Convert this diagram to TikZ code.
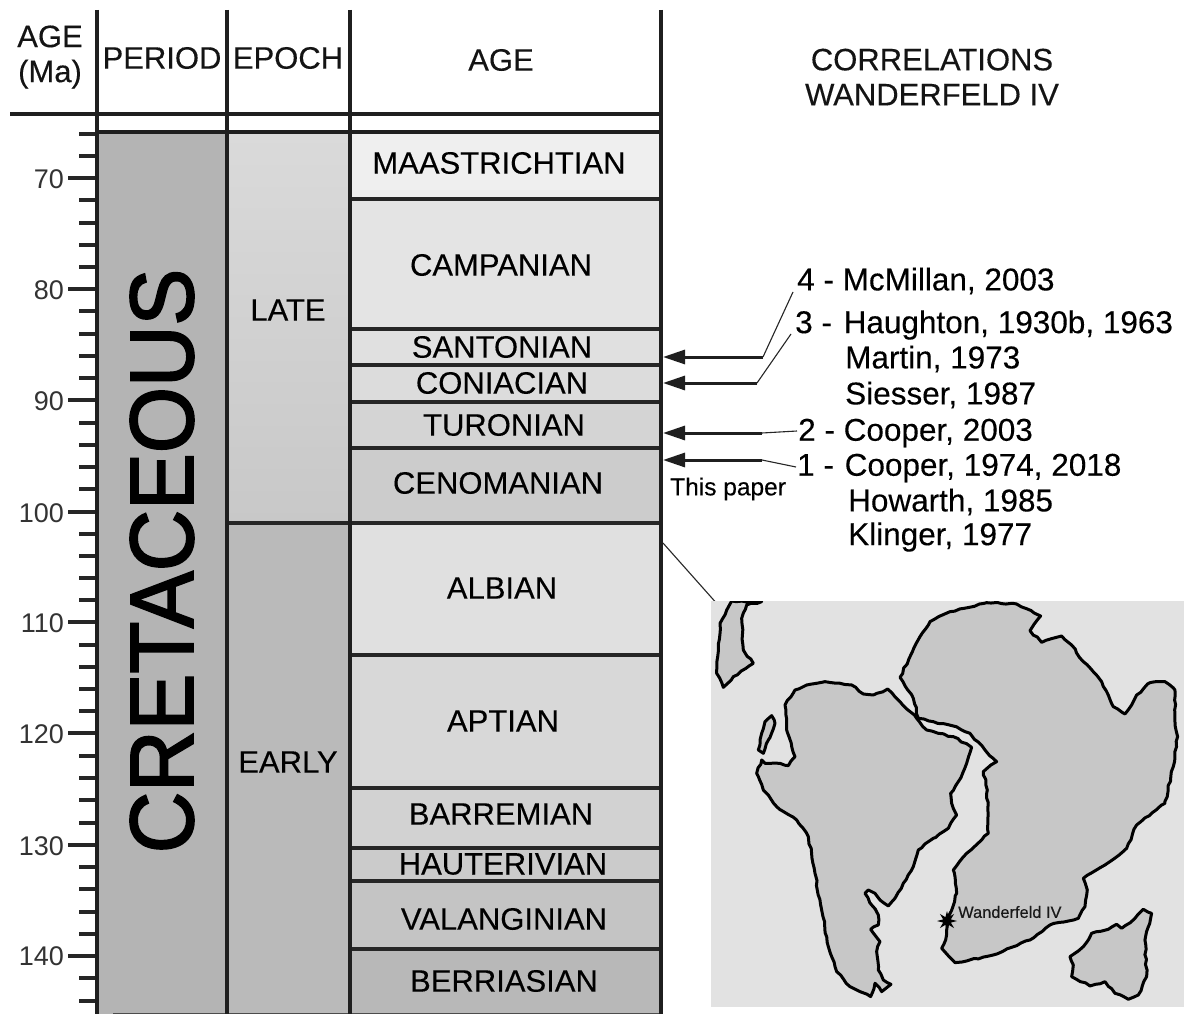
\documentclass[tikz,border=0pt]{standalone}
\usepackage{fontspec}
\setmainfont[FakeBold=0.25]{Liberation Sans}
\newfontfamily\cretfont[FakeBold=2.2]{Liberation Sans}
\newfontfamily\plainfont{Liberation Sans}
\usetikzlibrary{arrows.meta,shapes.geometric,decorations.pathmorphing}
\tikzset{
 x=1pt,y=-1pt,
 gridline/.style={line width=4pt,draw=black!88},
 tickline/.style={line width=4.2pt,draw=black!85},
 bandline/.style={line width=3.4pt,draw=black!85},
 hdr/.style={font=\fontsize{31}{35}\selectfont,inner sep=0pt,text=black!92,align=center},
 agelab/.style={font=\fontsize{31}{35}\selectfont,inner sep=0pt,text=black},
 num/.style={font=\plainfont\fontsize{27}{30}\selectfont,inner sep=0pt,text=black!80,anchor=east},
 refl/.style={font=\fontsize{31.5}{35}\selectfont,inner sep=0pt,anchor=west,text=black},
 shaft/.style={line width=3pt,draw=black!88,-{Triangle[length=22pt,width=14pt]}},
 hair/.style={line width=1.1pt,draw=black!85},
 land/.style={fill=landgrey,draw=black,line width=3pt,line join=round,
   decorate,decoration={random steps,segment length=5pt,amplitude=0.8pt}},
}
\definecolor{landgrey}{gray}{0.78}
\definecolor{mapbg}{gray}{0.885}
\begin{document}
\begin{tikzpicture}
\useasboundingbox (0,0) rectangle (1184,1014);
\fill[white] (0,0) rectangle (1184,1014);
% columns
\fill[fill={rgb,255:red,180;green,180;blue,180}] (97,132) rectangle (227,1014);
\shade[top color={rgb,255:red,218;green,218;blue,218},bottom color={rgb,255:red,200;green,200;blue,200}] (227,132) rectangle (350,523);
\fill[fill={rgb,255:red,186;green,186;blue,186}] (227,523) rectangle (350,1014);
% age bands
\foreach \ya/\yb/\g in {132/199/239,199/329/228,329/365/224,365/402/220,402/448/212,448/523/204,523/655/224,655/788/216,788/848/210,848/881/203,881/949/196,949/1014/184}{
  \fill[fill={rgb,255:red,\g;green,\g;blue,\g}] (350,\ya) rectangle (661,\yb);
}
% band lines
\foreach \yy in {199,329,365,402,448,523,655,788,848,881,949}{
  \draw[bandline] (350,\yy) -- (661,\yy);
}
\draw[bandline] (227,523) -- (350,523);
\draw[gridline] (97,132) -- (661,132);
\draw[gridline] (10,114) -- (661,114);
\draw[line width=1.4pt,draw=black!70] (113,1014) -- (661,1014);
% ticks
\foreach \yy in {134,156,200,223,245,267,311,334,356,378,423,445,467,489,534,556,578,600,645,667,689,711,756,778,800,823,867,889,912,934,978,1001}{
  \draw[tickline] (79,\yy) -- (97,\yy);
}
\foreach \yy in {178,289,400,512,622,733,845,956}{
  \draw[tickline] (68,\yy) -- (97,\yy);
}
\foreach \yy/\t in {179/70,290/80,401/90,513/100,623/110,734/120,846/130,956/140}{
  \node[num] (n\t) at (64,\yy) {\t};
}
% verticals
\foreach \xx in {97,227,350,661}{ \draw[gridline] (\xx,10) -- (\xx,1014); }
% headers
\node[hdr] (hage) at (50,57) {AGE\\(Ma)};
\node[hdr] (hperiod) at (162,58) {PERIOD};
\node[hdr] (hepoch) at (288,58) {EPOCH};
\node[hdr] (hagec) at (501,60) {AGE};
\node[hdr] (hcorr) at (932,77) {CORRELATIONS\\WANDERFELD IV};
% period / epoch
\node[inner sep=0pt,rotate=90,font=\cretfont\fontsize{90}{90}\selectfont,text=black] (cret) at (162,561) {\scalebox{0.945}[1]{CRETACEOUS}};
\node[agelab] (late) at (288,310) {LATE};
\node[agelab] (early) at (288,762) {EARLY};
% ages
\node[agelab] (maa) at (499,163) {MAASTRICHTIAN};
\node[agelab] (cam) at (501,265) {CAMPANIAN};
\node[agelab] (san) at (502,347) {SANTONIAN};
\node[agelab] (con) at (502,383) {CONIACIAN};
\node[agelab] (tur) at (504,425) {TURONIAN};
\node[agelab] (cen) at (498,483) {CENOMANIAN};
\node[agelab] (alb) at (502,588) {ALBIAN};
\node[agelab] (apt) at (503,721) {APTIAN};
\node[agelab] (bar) at (501,814) {BARREMIAN};
\node[agelab] (hau) at (503,864) {HAUTERIVIAN};
\node[agelab] (val) at (504,919) {VALANGINIAN};
\node[agelab] (ber) at (504,981) {BERRIASIAN};
% references
\node[refl] (r4) at (797,281) {4 - McMillan, 2003};
\node[refl] (r3) at (795,325) {3 -\hspace{3pt} Haughton, 1930b, 1963};
\node[refl] (r3b) at (845,359) {Martin, 1973};
\node[refl] (r3c) at (845,395) {Siesser, 1987};
\node[refl] (r2) at (798,433) {2 - Cooper, 2003};
\node[refl] (r1) at (797,468) {1 -\hspace{2pt} Cooper, 1974, 2018};
\node[refl] (r1b) at (848,502) {Howarth, 1985};
\node[refl] (r1c) at (848,537) {Klinger, 1977};
\node[inner sep=0pt,anchor=west,font=\fontsize{24.5}{27}\selectfont] (tp) at (670,489) {This paper};
% arrows
\coordinate (e4) at (763,357); \coordinate (f4) at (793,292); \coordinate (t4) at (663,357);
\coordinate (e3) at (757,383); \coordinate (f3) at (791,334); \coordinate (t3) at (663,383);
\coordinate (e2) at (762,433); \coordinate (f2) at (797,431); \coordinate (t2) at (663,433);
\coordinate (e1) at (762,460); \coordinate (f1) at (796,467); \coordinate (t1) at (663,460);
\foreach \k in {1,2,3,4}{
  \draw[shaft] (e\k) -- (t\k);
  \draw[hair] (e\k) -- (f\k);
}
\coordinate (l1) at (663,543); \coordinate (l2) at (719,606);
\draw[hair] (l1) -- (l2);
% map
\fill[mapbg] (711,601) rectangle (1184,1007);
\begin{scope}[shift={(700,590)},x=0.3333pt,y=-0.3333pt]
\clip (33,33) rectangle (1452,1250);
\draw[land] (95,33)--(60,100)--(55,170)--(50,250)--(70,292)--(100,260)--(160,220)--(130,180)--(125,85)--(140,45)--(185,35)--cycle;
\draw[land] (175,480)--(185,430)--(195,395)--(215,377)--(225,400)--(205,450)--(190,490)--cycle;
\draw[land] (255,345)--(285,300)--(320,285)--(375,275)--(455,285)--(490,312)--(520,315)--(563,297)--(600,335)--(650,385)--(680,420)--(715,430)--(760,440)--(815,472)--(800,520)--(775,575)--(752,610)--(755,640)--(770,675)--(745,715)--(700,745)--(655,780)--(640,830)--(610,880)--(585,925)--(565,948)--(540,930)--(525,910)--(505,900)--(495,910)--(515,945)--(535,975)--(535,1005)--(512,1018)--(540,1055)--(530,1085)--(535,1140)--(550,1170)--(573,1183)--(545,1205)--(525,1180)--(512,1220)--(480,1205)--(450,1190)--(410,1145)--(385,1070)--(365,960)--(345,850)--(325,740)--(290,690)--(230,650)--(190,600)--(170,550)--(185,510)--(195,520)--(240,520)--(265,527)--(285,500)--(260,420)--cycle;
\draw[land] (600,262)--(630,200)--(660,140)--(690,95)--(750,65)--(860,38)--(950,42)--(1022,78)--(990,122)--(1025,157)--(1085,138)--(1115,165)--(1150,215)--(1205,275)--(1240,350)--(1275,372)--(1295,345)--(1310,315)--(1350,278)--(1395,275)--(1425,300)--(1425,390)--(1433,440)--(1420,530)--(1395,640)--(1310,705)--(1280,775)--(1215,825)--(1150,865)--(1162,900)--(1155,950)--(1135,985)--(1050,1005)--(990,1050)--(880,1095)--(800,1113)--(765,1118)--(725,1075)--(737,1050)--(745,990)--(770,910)--(760,840)--(800,790)--(865,730)--(862,600)--(850,545)--(890,515)--(855,480)--(810,430)--(760,408)--(700,395)--(655,385)--(640,325)--cycle;
\draw[land] (1110,1100)--(1150,1070)--(1175,1030)--(1225,1018)--(1250,1003)--(1265,1015)--(1305,985)--(1330,958)--(1355,970)--(1335,1050)--(1340,1160)--(1315,1215)--(1285,1228)--(1245,1210)--(1215,1175)--(1170,1188)--(1115,1160)--(1120,1125)--cycle;
\end{scope}
\node[star,star points=8,star point ratio=2.4,fill=black,draw=none,inner sep=0pt,minimum size=20pt] (starmark) at (947,921) {};
\node[inner sep=0pt,anchor=west,font=\fontsize{16.4}{18}\selectfont,text=black!90] (wf) at (958,912) {Wanderfeld IV};
\end{tikzpicture}
\end{document}
